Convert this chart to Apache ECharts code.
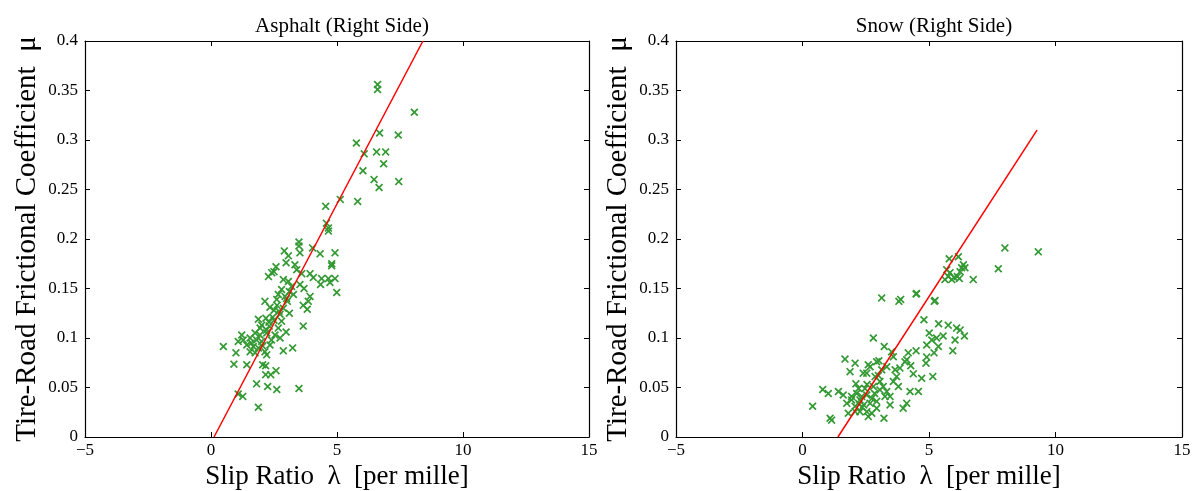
<!DOCTYPE html>
<html><head><meta charset="utf-8">
<script src="https://cdn.jsdelivr.net/npm/echarts@6/dist/echarts.min.js"></script>
<style>html,body{margin:0;padding:0;background:#fff}#c{width:1200px;height:491px}</style>
</head><body><div id="c"></div>
<script>
// ---- data ----
var xTickLabels = {'-5':'\u22125','0':'0','5':'5','10':'10','15':'15'};
var yTickLabels = ['0','0.05','0.1','0.15','0.2','0.25','0.3','0.35','0.4'];
var titles = ['Asphalt (Right Side)', 'Snow (Right Side)'];
var xName = 'Slip Ratio  \u03bb  [per mille]';
var yName = 'Tire-Road Frictional Coefficient  \u03bc';

var asphaltPoints = [
[6.61,0.356],[6.61,0.351],[8.07,0.328],[6.69,0.307],[7.43,0.305],[5.77,0.297],[6.08,0.286],[6.57,0.288],
[6.93,0.288],[6.85,0.276],[6.03,0.269],[6.47,0.260],[6.67,0.252],[7.45,0.258],[5.13,0.240],[4.55,0.233],
[5.82,0.238],[4.58,0.216],[4.66,0.211],[4.66,0.208],[3.49,0.197],[3.49,0.193],[4.03,0.191],[2.91,0.188],
[3.53,0.186],[4.33,0.185],[4.92,0.186],[3.07,0.183],[4.79,0.175],[4.79,0.173],[3.33,0.174],[2.58,0.172],
[2.98,0.176],[2.41,0.166],[2.28,0.162],[2.50,0.167],[3.40,0.169],[3.60,0.165],[3.93,0.165],[4.06,0.161],
[4.39,0.160],[4.66,0.160],[4.92,0.160],[4.35,0.154],[4.72,0.156],[2.87,0.159],[3.07,0.157],[3.53,0.154],
[3.69,0.150],[4.99,0.146],[2.80,0.149],[3.11,0.147],[2.67,0.144],[2.94,0.142],[3.27,0.144],[3.93,0.142],
[3.86,0.137],[2.14,0.137],[2.61,0.139],[3.03,0.137],[3.66,0.133],[3.82,0.129],[2.34,0.131],[2.50,0.128],
[2.87,0.130],[3.11,0.125],[2.74,0.124],[1.88,0.119],[2.18,0.120],[2.50,0.118],[2.80,0.117],[3.66,0.112],
[2.01,0.113],[2.31,0.112],[2.67,0.110],[2.98,0.106],[1.75,0.105],[1.94,0.103],[2.21,0.105],[2.54,0.103],
[2.74,0.100],[1.22,0.103],[1.28,0.098],[1.55,0.100],[1.81,0.098],[2.01,0.0965],[2.34,0.093],[1.08,0.0965],
[1.42,0.093],[1.68,0.0914],[1.88,0.090],[0.49,0.0914],[0.99,0.085],[1.55,0.086],[2.14,0.086],[2.87,0.087],
[3.24,0.090],[2.21,0.083],[1.75,0.085],[0.91,0.0736],[1.42,0.073],[2.05,0.073],[2.17,0.072],[2.58,0.067],
[2.37,0.063],[2.17,0.063],[1.81,0.0537],[2.25,0.051],[2.61,0.048],[3.49,0.049],[1.08,0.0435],[1.26,0.041],
[1.88,0.030],[2.45,0.121],[2.62,0.133],[2.20,0.108],[1.95,0.110],[2.40,0.098],[2.70,0.127],[3.00,0.140],
[3.20,0.152],[2.05,0.092],[1.60,0.095],[2.30,0.116]
];
var asphaltFit = [[0.12,0],[8.41,0.4]];

var snowPoints = [
[8.00,0.191],[9.32,0.187],[7.74,0.170],[6.75,0.159],[5.80,0.180],[6.16,0.182],[6.36,0.174],[6.29,0.171],
[6.23,0.167],[6.12,0.162],[5.99,0.161],[5.83,0.166],[5.76,0.162],[5.63,0.159],[5.70,0.169],[6.42,0.171],
[6.20,0.160],[5.90,0.159],[4.49,0.1445],[5.24,0.138],[3.88,0.139],[3.13,0.1405],[3.81,0.137],[4.51,0.145],
[5.21,0.137],[4.80,0.1185],[5.38,0.1144],[5.76,0.113],[6.09,0.110],[6.23,0.108],[6.40,0.102],[6.03,0.098],
[5.94,0.087],[5.56,0.102],[5.30,0.100],[5.01,0.105],[5.11,0.098],[4.91,0.093],[5.37,0.0914],[5.20,0.085],
[4.91,0.0807],[4.88,0.0746],[4.49,0.087],[4.18,0.085],[4.12,0.078],[4.28,0.072],[4.38,0.0638],[4.71,0.0594],
[5.15,0.061],[3.85,0.0696],[4.05,0.076],[3.59,0.081],[3.52,0.086],[3.23,0.0914],[2.80,0.100],[3.02,0.077],
[2.67,0.071],[2.54,0.0645],[2.87,0.061],[3.13,0.068],[3.33,0.071],[3.72,0.061],[3.59,0.056],[3.79,0.051],
[4.25,0.046],[4.58,0.046],[4.12,0.034],[3.98,0.029],[3.46,0.0324],[3.26,0.041],[3.06,0.0476],[3.22,0.019],
[2.60,0.0206],[2.27,0.0256],[2.08,0.031],[1.94,0.0375],[1.75,0.034],[1.61,0.0425],[1.42,0.046],[1.02,0.044],
[0.80,0.048],[0.40,0.031],[1.09,0.019],[1.15,0.017],[2.11,0.0537],[1.88,0.066],[2.08,0.0746],[1.68,0.0787],
[2.40,0.0645],[2.60,0.073],[2.93,0.076],[1.94,0.041],[2.14,0.044],[2.34,0.041],[2.54,0.0425],[2.74,0.039],
[2.93,0.036],[2.67,0.034],[2.42,0.0324],[2.22,0.034],[2.93,0.029],[2.54,0.0256],[1.81,0.024],[3.19,0.051],
[3.33,0.046],[2.47,0.049],[2.22,0.049],[2.80,0.051],[3.06,0.056],[2.74,0.024],[2.27,0.0375],[2.08,0.0256],
[3.46,0.041],[3.66,0.068],[2.36,0.030],[2.85,0.044],[3.00,0.062],[2.55,0.053]
];
var snowFit = [[1.40,0],[9.27,0.31]];

// ---- chart ----
var FONT = 'Liberation Serif';
var GREEN = '#339933';
var XSYM = 'path://M0,1.5L1.5,0L5,3.5L8.5,0L10,1.5L6.5,5L10,8.5L8.5,10L5,6.5L1.5,10L0,8.5L3.5,5Z';
var grids = [
  {left: 85, right: 611, top: 41, bottom: 54, outerBoundsMode: 'none', containLabel: false},
  {left: 676, right: 18, top: 41, bottom: 54, outerBoundsMode: 'none', containLabel: false}
];
function xAxes(i){
  var base = {gridIndex:i, type:'value', min:-5, max:15, interval:5,
    axisLine:{show:true, onZero:false, lineStyle:{color:'#000', width:1.2}},
    axisTick:{show:true, inside:true, length:5, lineStyle:{color:'#000'}},
    splitLine:{show:false}};
  return [
    Object.assign({}, base, {position:'bottom',
      name:xName, nameLocation:'middle', nameGap:17,
      nameTextStyle:{fontFamily:FONT, fontSize:27, color:'#000'},
      axisLabel:{show:true, margin:5, fontFamily:FONT, fontSize:17, color:'#000',
        formatter:function(v){return xTickLabels[String(v)] || String(v);}}}),
    Object.assign({}, base, {position:'top', axisLabel:{show:false}})
  ];
}
function yAxes(i){
  var base = {gridIndex:i, type:'value', min:0, max:0.4, interval:0.05,
    axisLine:{show:true, onZero:false, lineStyle:{color:'#000', width:1.2}},
    axisTick:{show:true, inside:true, length:5, lineStyle:{color:'#000'}},
    splitLine:{show:false}};
  return [
    Object.assign({}, base, {position:'left',
      name:yName, nameLocation:'middle', nameGap:43,
      nameTextStyle:{fontFamily:FONT, fontSize:29, color:'#000'},
      axisLabel:{show:true, margin:7, fontFamily:FONT, fontSize:17, color:'#000',
        formatter:function(v){return yTickLabels[Math.round(v/0.05)];}}}),
    Object.assign({}, base, {position:'right', axisLabel:{show:false}})
  ];
}
var option = {
  animation:false,
  backgroundColor:'#fff',
  title:[
    {text:titles[0], left:337, top:11, textAlign:'center', textStyle:{fontFamily:FONT, fontSize:21, fontWeight:'normal', color:'#000'}},
    {text:titles[1], left:929, top:11, textAlign:'center', textStyle:{fontFamily:FONT, fontSize:21, fontWeight:'normal', color:'#000'}}
  ],
  grid:grids,
  xAxis:xAxes(0).concat(xAxes(1)),
  yAxis:yAxes(0).concat(yAxes(1)),
  series:[
    {type:'scatter', xAxisIndex:0, yAxisIndex:0, data:asphaltPoints, symbol:XSYM, symbolSize:8, itemStyle:{color:GREEN, opacity:1}, z:2},
    {type:'line', xAxisIndex:0, yAxisIndex:0, data:asphaltFit, showSymbol:false, symbol:'none', lineStyle:{color:'#ff0000', width:1.5}, z:3},
    {type:'scatter', xAxisIndex:2, yAxisIndex:2, data:snowPoints, symbol:XSYM, symbolSize:8, itemStyle:{color:GREEN, opacity:1}, z:2},
    {type:'line', xAxisIndex:2, yAxisIndex:2, data:snowFit, showSymbol:false, symbol:'none', lineStyle:{color:'#ff0000', width:1.5}, z:3}
  ]
};
var chart = echarts.init(document.getElementById('c'), null, {renderer:'canvas'});
chart.setOption(option);
</script>
</body></html>
